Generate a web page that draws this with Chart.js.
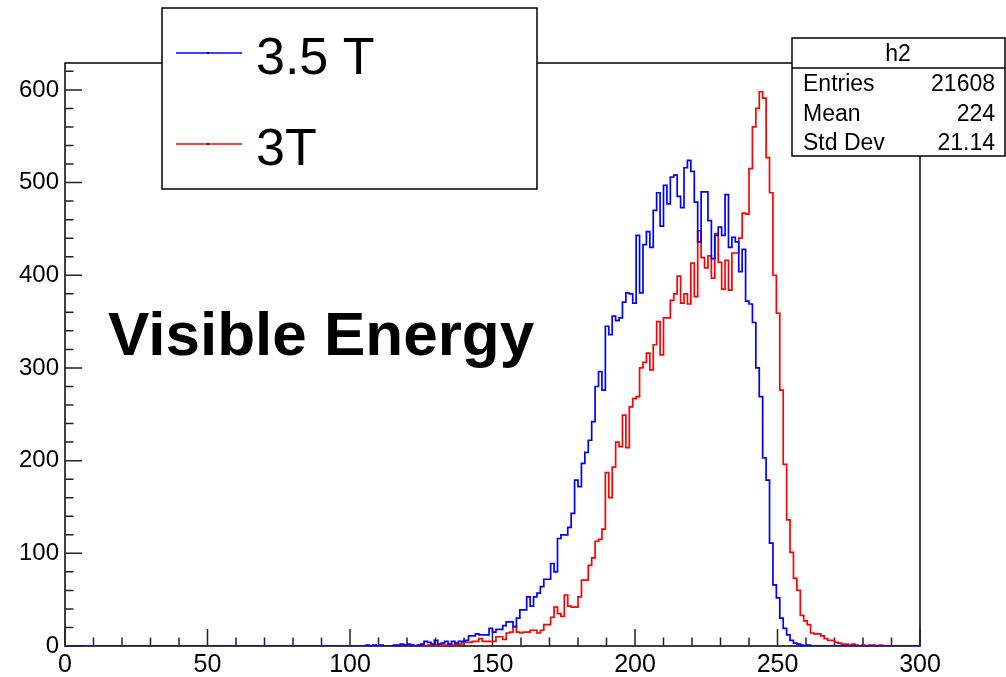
<!DOCTYPE html>
<html>
<head>
<meta charset="utf-8">
<script src="https://cdn.jsdelivr.net/npm/chart.js@4.4.0/dist/chart.umd.min.js"></script>
<style>
  body { margin: 0; background: #fff; }
</style>
</head>
<body>
<canvas id="hist" width="1006" height="677"></canvas>
<script>
// histogram binning: 250 bins of 1.2 over 0..300
const binWidth = 1.2;
const nBins = 250;

// 3.5 T (blue), counts starting at bin 87
const blueFirstBin = 87;
const blueCounts = [
  0, 0, 1, 0, 1, 0, 1, 0, 0, 0,
  1, 1, 2, 1, 2, 1, 0, 1, 2, 5,
  4, 2, 6, 2, 3, 5, 2, 5, 3, 5,
  5, 6, 11, 11, 13, 12, 12, 12, 19, 15,
  18, 18, 22, 26, 26, 21, 30, 39, 39, 53,
  43, 53, 57, 64, 72, 72, 89, 80, 116, 120,
  120, 128, 143, 179, 172, 197, 209, 222, 242, 280,
  296, 276, 345, 336, 356, 351, 354, 371, 381, 380,
  370, 443, 381, 433, 447, 430, 470, 489, 453, 497,
  477, 506, 508, 485, 473, 516, 524, 512, 479, 436,
  490, 490, 459, 418, 443, 452, 443, 487, 430, 441,
  436, 404, 428, 372, 369, 349, 300, 269, 203, 179,
  111, 66, 52, 30, 19, 12, 6, 3, 2, 1,
  0, 1, 0
];

// 3T (red, h2), counts starting at bin 100
const redFirstBin = 100;
const redCounts = [
  0, 0, 1, 0, 0, 1, 0, 1, 0, 1,
  0, 1, 1, 2, 1, 2, 2, 4, 4, 4,
  5, 5, 8, 5, 5, 5, 5, 10, 10, 7,
  14, 15, 21, 15, 14, 15, 15, 17, 17, 14,
  17, 23, 23, 31, 42, 35, 32, 55, 43, 42,
  42, 53, 71, 71, 87, 95, 113, 115, 126, 187,
  160, 193, 220, 215, 249, 214, 258, 267, 269, 300,
  306, 316, 298, 325, 350, 314, 354, 354, 373, 380,
  399, 370, 380, 369, 413, 377, 448, 419, 408, 421,
  397, 445, 414, 385, 416, 384, 424, 424, 440, 467,
  466, 515, 560, 580, 598, 591, 527, 489, 400, 359,
  276, 196, 136, 101, 73, 60, 33, 27, 23, 14,
  13, 13, 11, 8, 6, 6, 4, 3, 2, 2,
  1, 2, 1, 0, 1, 0, 1, 1, 0, 1,
  0
];

const xTicks = [0, 50, 100, 150, 200, 250, 300];
const yTicks = [0, 100, 200, 300, 400, 500, 600];
const legendLabels = ['3.5 T', '3T'];
const seriesColors = ['#0000ff', '#ff0000'];
const statsTitle = 'h2';
const statsRows = [['Entries', '21608'], ['Mean', '224'], ['Std Dev', '21.14']];
const plotTitle = 'Visible Energy';

const FONT = '"Liberation Sans", Arial, Helvetica, sans-serif';

function toSteps(first, counts) {
  const pts = [];
  for (let i = 0; i < nBins; i++) {
    const k = i - first;
    const v = (k >= 0 && k < counts.length) ? counts[k] : 0;
    pts.push({ x: i * binWidth, y: v });
  }
  pts.push({ x: nBins * binWidth, y: 0 });
  return pts;
}

// ROOT style frame with inward ticks
const rootFrame = {
  id: 'rootFrame',
  beforeDatasetsDraw(chart) {
    const { ctx, chartArea: a, scales: { x, y } } = chart;
    ctx.save();
    ctx.strokeStyle = '#000';
    ctx.lineWidth = 1.5;
    ctx.strokeRect(a.left, a.top, a.right - a.left, a.bottom - a.top);
    ctx.strokeStyle = '#222';
    ctx.beginPath();
    for (let v = 0; v <= 300; v += 10) {
      const px = x.getPixelForValue(v);
      const len = v % 50 === 0 ? 17 : 8.5;
      ctx.moveTo(px, a.bottom);
      ctx.lineTo(px, a.bottom - len);
    }
    for (let v = 0; v <= 620; v += 20) {
      const py = y.getPixelForValue(v);
      const len = v % 100 === 0 ? 17 : 8.5;
      ctx.moveTo(a.left, py);
      ctx.lineTo(a.left + len, py);
    }
    ctx.stroke();
    ctx.restore();
  },
  afterDraw(chart) {
    const ctx = chart.ctx;
    ctx.save();

    // big label
    ctx.fillStyle = '#000';
    ctx.font = 'bold 62px ' + FONT;
    ctx.textBaseline = 'alphabetic';
    ctx.textAlign = 'left';
    ctx.fillText(plotTitle, 108, 355);

    // legend box
    ctx.lineWidth = 1.5;
    ctx.strokeStyle = '#000';
    ctx.fillStyle = '#fff';
    ctx.fillRect(162, 8, 375, 181);
    ctx.strokeRect(162, 8, 375, 181);
    const rowsY = [53, 144];
    legendLabels.forEach((lab, i) => {
      const yy = rowsY[i];
      ctx.strokeStyle = seriesColors[i];
      ctx.lineWidth = 1.5;
      ctx.beginPath();
      ctx.moveTo(176, yy);
      ctx.lineTo(242, yy);
      ctx.stroke();
      ctx.fillStyle = '#000';
      ctx.fillRect(207, yy - 1, 2, 2);
      ctx.font = '52px ' + FONT;
      ctx.fillText(lab, 256, yy + 21);
    });

    // stats box
    ctx.strokeStyle = '#000';
    ctx.lineWidth = 1.5;
    ctx.fillStyle = '#fff';
    ctx.fillRect(792, 38, 213, 118);
    ctx.strokeRect(792, 38, 213, 118);
    ctx.beginPath();
    ctx.moveTo(792, 68);
    ctx.lineTo(1005, 68);
    ctx.stroke();
    ctx.fillStyle = '#000';
    ctx.font = '23px ' + FONT;
    ctx.textAlign = 'center';
    ctx.fillText(statsTitle, 898, 61);
    statsRows.forEach((r, i) => {
      const yy = 91 + i * 29.5;
      ctx.textAlign = 'left';
      ctx.fillText(r[0], 803, yy);
      ctx.textAlign = 'right';
      ctx.fillText(r[1], 995, yy);
    });
    ctx.restore();
  }
};

const ctx = document.getElementById('hist').getContext('2d');
const chart = new Chart(ctx, {
  type: 'line',
  data: {
    datasets: [
      {
        label: legendLabels[0],
        data: toSteps(blueFirstBin, blueCounts),
        borderColor: seriesColors[0],
        borderWidth: 1.7,
        stepped: 'after',
        pointRadius: 0,
        fill: false,
      },
      {
        label: legendLabels[1],
        data: toSteps(redFirstBin, redCounts),
        borderColor: seriesColors[1],
        borderWidth: 1.7,
        stepped: 'after',
        pointRadius: 0,
        fill: false,
      }
    ]
  },
  options: {
    responsive: false,
    animation: false,
    devicePixelRatio: 1,
    layout: { padding: { top: 63, right: 86, left: 0, bottom: 0 } },
    plugins: {
      legend: { display: false },
      tooltip: { enabled: false }
    },
    scales: {
      x: {
        type: 'linear',
        min: 0,
        max: 300,
        afterBuildTicks: s => { s.ticks = xTicks.map(v => ({ value: v })); },
        afterFit: s => { s.height = 31; },
        grid: { display: false, drawTicks: false },
        border: { display: false },
        ticks: { color: '#000', font: { size: 25, family: FONT }, padding: 4, maxRotation: 0, autoSkip: false }
      },
      y: {
        min: 0,
        max: 629,
        afterBuildTicks: s => { s.ticks = yTicks.map(v => ({ value: v })); },
        afterFit: s => { s.width = 65; },
        grid: { display: false, drawTicks: false },
        border: { display: false },
        ticks: { color: '#000', font: { size: 24, family: FONT }, padding: 6, autoSkip: false }
      }
    }
  },
  plugins: [rootFrame]
});
</script>
</body>
</html>
